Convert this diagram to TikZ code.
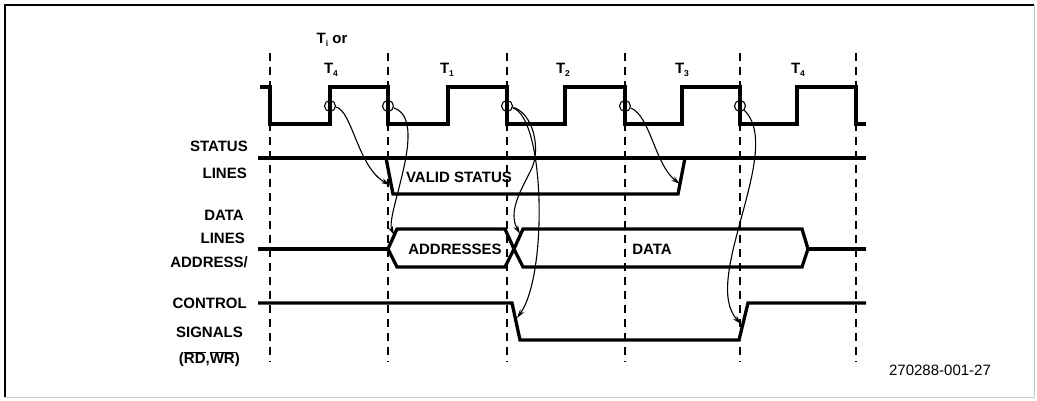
\documentclass[tikz,border=0pt]{standalone}
\usepackage{fontspec}
\setmainfont{Liberation Sans}
\usetikzlibrary{arrows.meta}
\newcommand{\tst}[1]{T\raisebox{-2.5pt}{\fontsize{8.5}{9}\selectfont#1}}
\tikzset{
  sig/.style={line width=3.3pt, line join=miter},
  tline/.style={line width=1.2pt, dash pattern=on 8pt off 6pt},
  lbl/.style={font=\bfseries\fontsize{15}{17}\selectfont, inner sep=0pt},
  ring/.style={circle, draw, line width=1.1pt, minimum size=11pt, inner sep=0pt},
  cue/.style={-{Stealth[length=9pt,width=5pt]}, line width=1.1pt},
}

\begin{document}
\begin{tikzpicture}[x=1pt,y=-1pt]
\useasboundingbox (0,0) rectangle (1037,401);
\draw[line width=1.8pt] (5,397) -- (5,5) -- (1034,5);
\draw[gray!45, line width=0.8pt] (1034,5) -- (1034,397) -- (5,397);
\foreach \x in {270,388,507,625,740,856}
  \draw[tline] (\x,53) -- (\x,362);
\draw[sig] (260,87) \foreach \f/\r in {270/330,388/448,507/565,625/682,740/797} { -| (\f,124) -| (\r,87) } -| (856,124) -- (866,124);
\draw[sig] (258,158) -- (866,158);
\draw[sig] (386,158) -- (393,194) -- (678,194) -- (685,158);
\draw[sig] (258,249) -- (388,249);
\draw[sig] (388,249) -- (397,229) -- (505,229) -- (514,249) -- (505,267) -- (397,267) -- cycle;
\draw[sig] (514,249) -- (523,229) -- (802,229) -- (808,249) -- (802,267) -- (523,267) -- cycle;
\draw[sig] (808,249) -- (866,249);
\draw[sig] (258,303) -- (512,303) -- (520,340) -- (739,340) -- (748,303) -- (866,303);
\node[lbl] (ti) at (332,40) {\tst{i} or};
\node[lbl] (t4a) at (331,70) {\tst{4}};
\node[lbl] (t1) at (447,70) {\tst{1}};
\node[lbl] (t2) at (563,70) {\tst{2}};
\node[lbl] (t3) at (682,70) {\tst{3}};
\node[lbl] (t4b) at (798,70) {\tst{4}};
\node[lbl, anchor=east] (st) at (248,146) {STATUS};
\node[lbl, anchor=east] (sl) at (247,173) {LINES};
\node[lbl, anchor=east] (da) at (244,215) {DATA};
\node[lbl, anchor=east] (dl) at (245,238) {LINES};
\node[lbl, anchor=east] (ad) at (248,262) {ADDRESS/};
\node[lbl, anchor=east] (co) at (247,303) {CONTROL};
\node[lbl, anchor=east] (si) at (243,332) {SIGNALS};
\node[lbl, anchor=east] (rw) at (240,359) {(\(\overline{\hbox{RD}}\),\(\overline{\hbox{WR}}\))};
\node[lbl] (valid) at (459,177) {VALID STATUS};
\node[lbl] (addr) at (455,249) {ADDRESSES};
\node[lbl] (data) at (652,249) {DATA};
\node[font=\fontsize{15}{17}\selectfont, inner sep=0pt] (fig) at (940,370) {270288-001-27};
\node[ring] (c0) at (330,106) {};
\node[ring] (c1) at (388,106) {};
\node[ring] (c2) at (507,106) {};
\node[ring] (c3) at (625,106) {};
\node[ring] (c4) at (740,106) {};
\coordinate (v1) at (390,185);
\coordinate (v2) at (680,184);
\coordinate (a1) at (394,235);
\coordinate (a2) at (520,234);
\coordinate (k1) at (517,318);
\coordinate (k2) at (741,324);
\draw[cue] (c0) .. controls (352,110) and (358,168) .. (v1);
\draw[cue] (c1) .. controls (430,120) and (385,215) .. (a1);
\draw[cue] (c2) .. controls (532,112) and (542,148) .. (531,170) .. controls (520,192) and (508,212) .. (a2);
\draw[cue] (c2) .. controls (545,118) and (548,275) .. (k1);
\draw[cue] (c3) .. controls (650,115) and (655,165) .. (v2);
\draw[cue] (c4) .. controls (785,150) and (700,280) .. (k2);
\end{tikzpicture}
\end{document}
